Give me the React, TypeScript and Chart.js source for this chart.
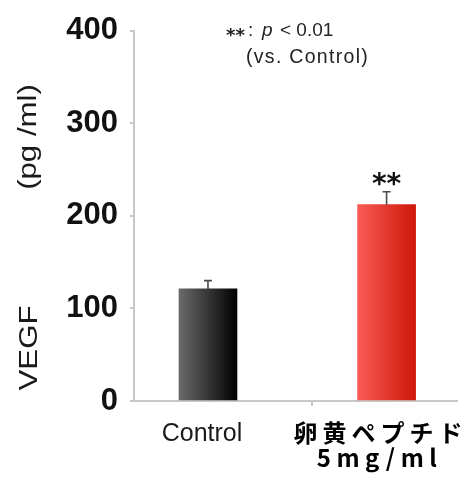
import React, { useEffect, useRef } from 'react';
import { Chart, registerables } from 'chart.js';

Chart.register(...registerables);

// ---- data ----
const categories: (string | string[])[] = ['Control', ['卵黄ペプチド', '5mg/ml']];
const values = [121, 212];
const errors = [9, 14];
const significance = ['', '**'];
const yTickValues = [0, 100, 200, 300, 400];
const yTitleParts = ['VEGF', '(pg /ml)'];
const noteStars = '**';
const noteP = 'p';
const noteRest = '< 0.01';
const noteLine2 = '(vs. Control)';

// ---- layout / style constants ----
const barPositions = [0.229, 0.782];
const midTick = 0.551;
const gradients = [
  ['#6b6b6b', '#000000'],
  ['#f95b55', '#cf170a'],
];
const BAR_W = 58;

const overlayPlugin = {
  id: 'overlay',
  afterDatasetsDraw(chart: any) {
    const ctx = chart.ctx as CanvasRenderingContext2D;
    const xs = chart.scales.x;
    const ys = chart.scales.y;
    ctx.save();
    values.forEach((v, i) => {
      const cx = xs.getPixelForValue(barPositions[i]);
      const y0 = ys.getPixelForValue(v);
      const y1 = ys.getPixelForValue(v + errors[i]);
      ctx.strokeStyle = '#4a4a4a';
      ctx.lineWidth = 1.6;
      ctx.beginPath();
      ctx.moveTo(cx, y0);
      ctx.lineTo(cx, y1);
      ctx.moveTo(cx - 4, y1);
      ctx.lineTo(cx + 4, y1);
      ctx.stroke();
      if (significance[i]) {
        ctx.fillStyle = '#111';
        ctx.font = 'bold 28px "DejaVu Sans"';
        ctx.textAlign = 'center';
        ctx.textBaseline = 'alphabetic';
        ctx.fillText(significance[i], cx, y1 + 1);
      }
    });
    ctx.restore();
  },
  afterDraw(chart: any) {
    const ctx = chart.ctx as CanvasRenderingContext2D & { letterSpacing?: string };
    const xs = chart.scales.x;
    ctx.save();
    ctx.fillStyle = '#1a1a1a';
    ctx.textBaseline = 'alphabetic';
    ctx.textAlign = 'center';

    // x labels
    const c0 = xs.getPixelForValue(barPositions[0]);
    ctx.font = '25px "Liberation Sans", Arial';
    ctx.fillText(categories[0] as string, c0 - 6, 441);

    const c1 = xs.getPixelForValue(barPositions[1]);
    const lines = categories[1] as string[];
    ctx.fillStyle = '#000';
    ctx.font = 'bold 24px "Noto Sans CJK JP"';
    ctx.letterSpacing = '5px';
    ctx.fillText(lines[0], c1 - 6, 442);
    ctx.letterSpacing = '5.5px';
    ctx.fillText(lines[1], c1 - 7, 467);
    ctx.letterSpacing = '0px';

    // y title (rotated, stretched)
    ctx.fillStyle = '#1a1a1a';
    ctx.font = '26px "Liberation Sans", Arial';
    const drawRot = (t: string, x: number, y: number) => {
      ctx.save();
      ctx.translate(x, y);
      ctx.rotate(-Math.PI / 2);
      ctx.scale(1.2, 1);
      ctx.textAlign = 'center';
      ctx.fillText(t, 0, 0);
      ctx.restore();
    };
    drawRot(yTitleParts[0], 37, 348);
    drawRot(yTitleParts[1], 36, 137);

    // note
    ctx.textAlign = 'left';
    ctx.fillStyle = '#222';
    ctx.font = 'bold 18px "DejaVu Sans"';
    ctx.fillText(noteStars, 226, 41);
    ctx.font = '19px "Liberation Sans", Arial';
    ctx.fillText(':', 248, 36);
    ctx.font = 'italic 19px "Liberation Sans", Arial';
    ctx.fillText(noteP, 262, 36);
    ctx.font = '19px "Liberation Sans", Arial';
    ctx.fillText(noteRest, 280, 36);
    ctx.font = '19.5px "Liberation Sans", Arial';
    ctx.letterSpacing = '1.3px';
    ctx.fillText(noteLine2, 246, 63);
    ctx.letterSpacing = '0px';
    ctx.restore();
  },
};

export default function App() {
  const ref = useRef<HTMLCanvasElement>(null);
  useEffect(() => {
    const canvas = ref.current;
    if (!canvas) return;
    const chart = new Chart(canvas, {
      type: 'bar',
      data: {
        datasets: [
          {
            data: values.map((v, i) => ({ x: barPositions[i], y: v })) as any,
            barThickness: BAR_W,
            borderWidth: 0,
            backgroundColor: (c: any) => {
              const ch = c.chart;
              const i = c.dataIndex;
              const xs = ch.scales && ch.scales.x;
              if (!ch.chartArea || !xs || i == null || i < 0) return gradients[0][1];
              const cx = xs.getPixelForValue(barPositions[i]);
              const g = ch.ctx.createLinearGradient(cx - BAR_W / 2, 0, cx + BAR_W / 2, 0);
              g.addColorStop(0, gradients[i][0]);
              g.addColorStop(1, gradients[i][1]);
              return g;
            },
          },
        ],
      },
      options: {
        responsive: false,
        animation: false,
        layout: { padding: { top: 25, right: 9, left: 0, bottom: 0 } },
        plugins: { legend: { display: false }, tooltip: { enabled: false } },
        scales: {
          x: {
            type: 'linear',
            min: 0,
            max: 1,
            offset: false,
            afterBuildTicks: (s: any) => {
              s.ticks = [barPositions[0], midTick, barPositions[1]].map((v) => ({ value: v }));
            },
            afterFit: (s: any) => {
              s.height = 83;
            },
            ticks: { display: false },
            grid: {
              offset: false,
              drawOnChartArea: false,
              tickLength: 5,
              lineWidth: 2,
              color: (c: any) => (c.tick && c.tick.value === midTick ? '#c4c4c4' : 'rgba(0,0,0,0)'),
            },
            border: { color: '#c8c8c8', width: 2 },
          },
          y: {
            min: 0,
            max: 400,
            afterBuildTicks: (s: any) => {
              s.ticks = yTickValues.map((v) => ({ value: v }));
            },
            afterFit: (s: any) => {
              s.width = 134;
            },
            ticks: {
              font: { family: '"Liberation Sans", Arial', size: 31, weight: 'bold' },
              color: '#111',
              padding: 12,
            },
            grid: { drawOnChartArea: false, tickLength: 4, color: '#c8c8c8', lineWidth: 2 },
            border: { color: '#c8c8c8', width: 2 },
          },
        },
      } as any,
      plugins: [overlayPlugin],
    });
    return () => chart.destroy();
  }, []);
  return (
    <div style={{ position: 'fixed', left: 0, top: 0, width: 466, height: 484, background: '#fff' }}>
      <canvas ref={ref} width={466} height={484} style={{ display: 'block', width: 466, height: 484 }} />
    </div>
  );
}
